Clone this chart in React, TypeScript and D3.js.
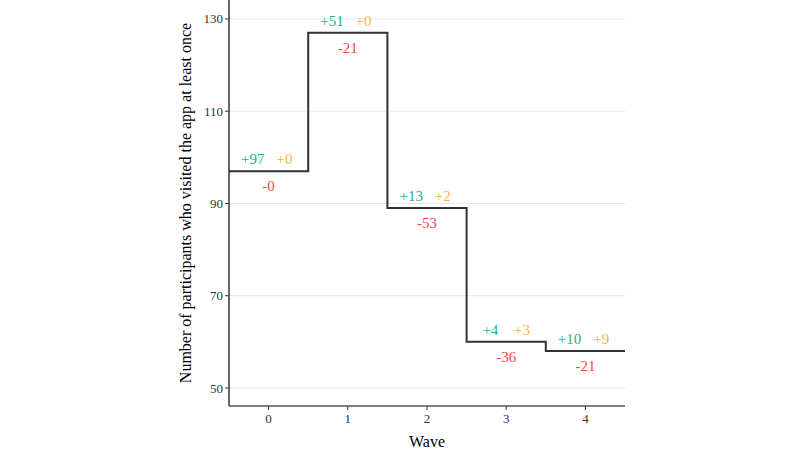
import React from "react";
import * as d3 from "d3";

const waves = [0, 1, 2, 3, 4];
const participants = [97, 127, 89, 60, 58];
const gained = ["+97", "+51", "+13", "+4", "+10"];
const returned = ["+0", "+0", "+2", "+3", "+9"];
const lost = ["-0", "-21", "-53", "-36", "-21"];
const yTicks = [50, 70, 90, 110, 130];

const W = 800;
const H = 449;
const left = 229;
const right = 625;
const top = 0;
const bottom = 406;
const font = "'Liberation Serif', 'Times New Roman', serif";

export default function App() {
  const x = d3.scaleLinear().domain([-0.5, 4.5]).range([left, right]);
  const y = d3.scaleLinear().domain([46.1, 134.1]).range([bottom, top]);

  const stepPts: [number, number][] = [];
  waves.forEach((w, i) => {
    stepPts.push([w - 0.5, participants[i]]);
    stepPts.push([w + 0.5, participants[i]]);
  });
  const line = d3
    .line<[number, number]>()
    .x((d) => x(d[0]))
    .y((d) => y(d[1]));

  const dx = x(0.2) - x(0);

  return (
    <svg width={W} height={H} style={{ position: "absolute", left: 0, top: 0, background: "#fff" }}>
      {yTicks.map((t) => (
        <line key={"g" + t} x1={left} x2={right} y1={y(t)} y2={y(t)} stroke="#e6e6e6" strokeWidth={1} />
      ))}
      <path d={line(stepPts) || ""} fill="none" stroke="#333333" strokeWidth={2} />
      {waves.map((w, i) => (
        <g key={"l" + w} fontFamily={font} fontSize={15} textAnchor="middle">
          <text x={x(w) - dx} y={y(participants[i]) - 12} dy="0.35em" fill="#1fb27a">
            {gained[i]}
          </text>
          <text x={x(w) + dx} y={y(participants[i]) - 12} dy="0.35em" fill="#f5b63a">
            {returned[i]}
          </text>
          <text x={x(w)} y={y(participants[i]) + 15} dy="0.35em" fill="#f8444a">
            {lost[i]}
          </text>
        </g>
      ))}
      <line x1={left} x2={left} y1={top} y2={bottom} stroke="#000" strokeWidth={1.2} />
      <line x1={left} x2={right} y1={bottom} y2={bottom} stroke="#000" strokeWidth={1.2} />
      {yTicks.map((t) => (
        <g key={"yt" + t}>
          <line x1={left - 4} x2={left} y1={y(t)} y2={y(t)} stroke="#333" />
          <text x={left - 6} y={y(t)} dy="0.35em" textAnchor="end" fontFamily={font} fontSize={13} fill="#333">
            {t}
          </text>
        </g>
      ))}
      {waves.map((w) => (
        <g key={"xt" + w}>
          <line x1={x(w)} x2={x(w)} y1={bottom} y2={bottom + 4} stroke="#333" />
          <text x={x(w)} y={bottom + 12} dy="0.35em" textAnchor="middle" fontFamily={font} fontSize={13} fill="#333">
            {w}
          </text>
        </g>
      ))}
      <text x={(left + right) / 2} y={441} dy="0.35em" textAnchor="middle" fontFamily={font} fontSize={16} fill="#000">
        Wave
      </text>
      <text
        transform={`translate(185, ${(top + bottom) / 2}) rotate(-90)`}
        dy="0.35em"
        textAnchor="middle"
        fontFamily={font}
        fontSize={16}
        fill="#000"
      >
        Number of participants who visited the app at least once
      </text>
    </svg>
  );
}
